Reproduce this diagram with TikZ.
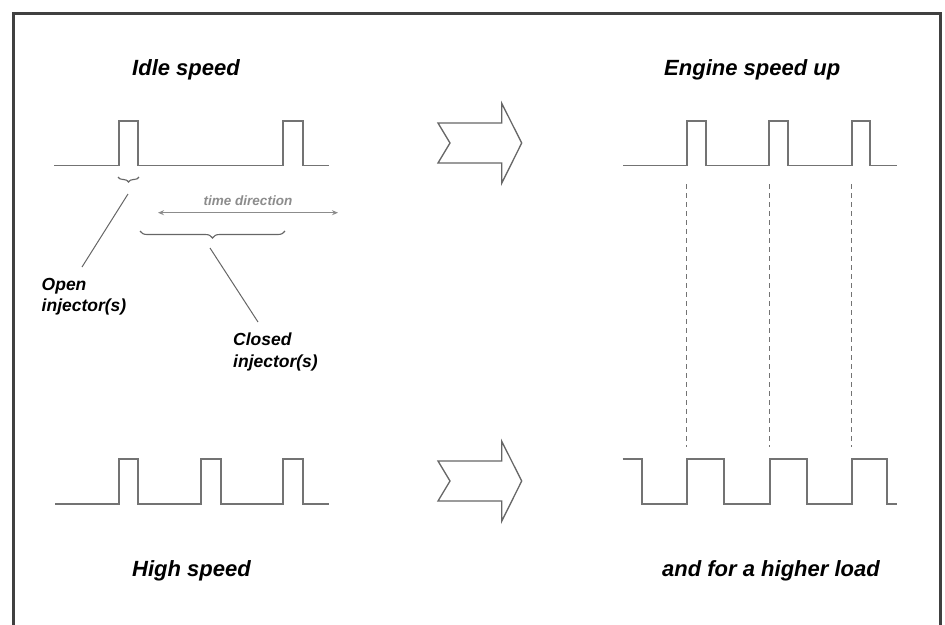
\documentclass[tikz,border=0pt]{standalone}
\usepackage{fontspec}
\setmainfont{Liberation Sans}
\usetikzlibrary{decorations.pathreplacing,arrows.meta}

\tikzset{
  wave/.style={draw=black!55, line width=1.7pt, line join=miter},
  title/.style={font=\fontsize{22}{24}\selectfont\bfseries\itshape, anchor=base west, inner sep=0pt},
  note/.style={font=\fontsize{17.5}{21.5}\selectfont\bfseries\itshape, align=left, anchor=north west, inner sep=0pt},
  leader/.style={draw=black!60, line width=1pt},
  bracemark/.style={draw=black!60, line width=1.1pt, decorate},
  guide/.style={draw=black!55, line width=0.8pt, dash pattern=on 5pt off 4pt},
  fatarrow/.style={draw=black!60, line width=1.3pt, line join=miter, fill=white},
  pics/bigarrow/.style={code={
    \draw[fatarrow] (-42,-20) -- (21.7,-20) -- (21.7,-39.7) -- (41.7,0)
      -- (21.7,40.3) -- (21.7,20) -- (-42,20) -- (-30,0) -- cycle;
  }},
}

\begin{document}
\begin{tikzpicture}[x=1pt, y=-1pt]
  \useasboundingbox (0,0) rectangle (945,624);
  \clip (0,0) rectangle (945,624);

  % frame, open towards the bottom edge
  \draw[black!75, line width=3pt] (13,640) -- (13,13) -- (940,13) -- (940,640);

  % headings
  \node[title] (idle)   at (132,75)  {Idle speed};
  \node[title] (engine) at (664,75)  {Engine speed up};
  \node[title] (high)   at (132,576) {High speed};
  \node[title] (load)   at (662,576) {and for a higher load};

  % idle speed pulse train
  \draw[wave] (54,165.5) -- (119.3,165.5) -- (119.3,120.7) -- (138.3,120.7) -- (138.3,165.5)
    -- (282.7,165.5) -- (282.7,120.7) -- (303.3,120.7) -- (303.3,165.5) -- (329,165.5);

  % high speed pulse train
  \draw[wave] (55,504) -- (119.3,504) -- (119.3,459) -- (138.3,459) -- (138.3,504)
    -- (201,504) -- (201,459) -- (221,459) -- (221,504)
    -- (282.7,504) -- (282.7,459) -- (303.3,459) -- (303.3,504) -- (329,504);

  % engine speed up pulse train
  \draw[wave] (623,165.5) -- (686.7,165.5) -- (686.7,120.7) -- (706,120.7) -- (706,165.5)
    -- (769,165.5) -- (769,120.7) -- (788.3,120.7) -- (788.3,165.5)
    -- (851.7,165.5) -- (851.7,120.7) -- (870,120.7) -- (870,165.5) -- (897,165.5);

  % higher load pulse train
  \draw[wave] (622.7,459) -- (641.7,459) -- (641.7,504) -- (686.7,504) -- (686.7,459)
    -- (724,459) -- (724,504) -- (770,504) -- (770,459)
    -- (806.7,459) -- (806.7,504) -- (852.3,504) -- (852.3,459)
    -- (887.3,459) -- (887.3,504) -- (897.3,504);

  % alignment guides between the two right-hand trains
  \foreach \gx/\gn in {686.7/a, 769/b, 851.7/c}{
    \coordinate (gtop\gn) at (\gx,184);
    \coordinate (gbot\gn) at (\gx,447);
    \draw[guide] (gtop\gn) -- (gbot\gn);
  }

  % transition arrows
  \pic (arrowtop) at (480,143) {bigarrow};
  \pic (arrowbot) at (480,481) {bigarrow};

  % time direction indicator
  \coordinate (tleft) at (158,212.7);
  \coordinate (tright) at (338,212.7);
  \draw[black!45, line width=1.4pt, {Stealth[length=6pt,width=5pt]}-{Stealth[length=6pt,width=5pt]}] (tleft) -- (tright);
  \node[font=\fontsize{13.5}{15}\selectfont\bfseries\itshape, text=black!45, inner sep=0pt, anchor=base] (tdir) at (248,205) {time direction};

  % brace over the open interval
  \coordinate (ob1) at (118,177);
  \coordinate (ob2) at (139,177);
  \draw[bracemark, decoration={brace, amplitude=5pt, mirror}] (ob1) -- (ob2);
  % brace over the closed interval
  \coordinate (cb1) at (140,231);
  \coordinate (cb2) at (285,231);
  \draw[bracemark, decoration={brace, amplitude=7pt, mirror}] (cb1) -- (cb2);

  % labels and leader lines
  \node[note] (open) at (41.5,278) {Open\\injector(s)};
  \node[note] (closed) at (233,333) {Closed\\injector(s)};
  \coordinate (opentip) at (128,194);
  \coordinate (closedtip) at (210,248);
  \draw[leader] (opentip) -- ([xshift=40.5pt,yshift=11pt]open.north west);
  \draw[leader] (closedtip) -- ([xshift=25pt,yshift=11pt]closed.north west);
\end{tikzpicture}
\end{document}
